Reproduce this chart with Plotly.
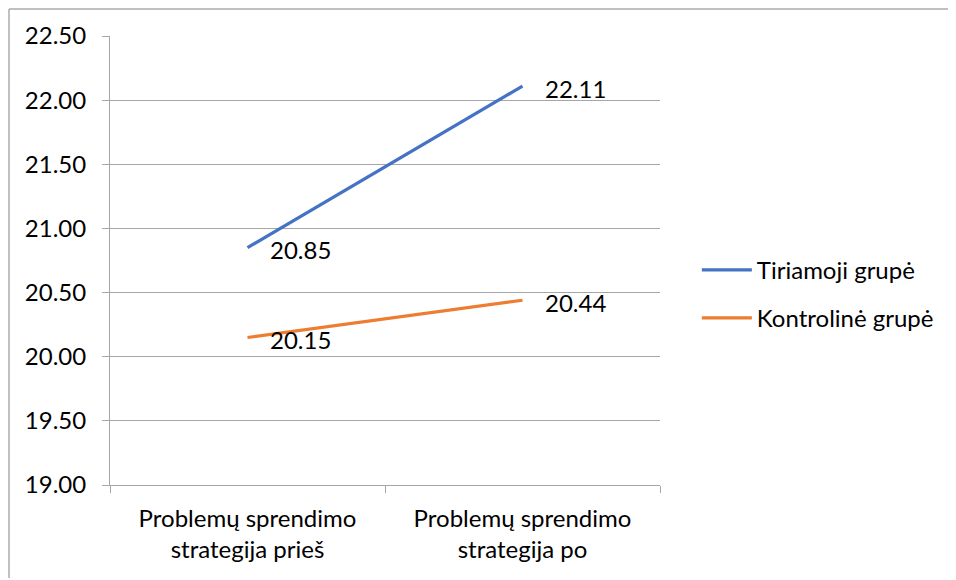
import plotly.graph_objects as go

categories = ["Problemų sprendimo<br>strategija prieš", "Problemų sprendimo<br>strategija po"]
tiriamoji = [20.85, 22.11]
kontroline = [20.15, 20.44]
series_names = ["Tiriamoji grupė", "Kontrolinė grupė"]
y_ticks = [19.0, 19.5, 20.0, 20.5, 21.0, 21.5, 22.0, 22.5]

colors = ["#4472C4", "#ED7D31"]
font_family = "Lato, 'Open Sans', sans-serif"
fs = 24

fig = go.Figure()
for i, (name, vals) in enumerate(zip(series_names, [tiriamoji, kontroline])):
    fig.add_trace(go.Scatter(
        x=categories,
        y=vals,
        mode="lines",
        name=name,
        legendgroup=name,
        line=dict(color=colors[i], width=3.2),
        hoverinfo="skip",
    ))
    # data labels to the right of each point
    for x, v in zip(categories, vals):
        fig.add_annotation(
            x=x, y=v, text=f"{v:.2f}",
            showarrow=False, xanchor="left", yanchor="middle",
            xshift=20, yshift=-2,
            font=dict(size=fs, color="black", family=font_family),
        )

# outer chart border: only top and left edges are inside the picture
bx0 = (1 - 102) / 550
by1 = (477 - 1) / 449
border = dict(color="#ababab", width=1.5)
fig.add_shape(type="line", xref="paper", yref="paper",
              x0=bx0, x1=1.8, y0=by1, y1=by1, line=border)
fig.add_shape(type="line", xref="paper", yref="paper",
              x0=bx0, x1=bx0, y0=-0.5, y1=by1, line=border)

fig.update_layout(
    width=946,
    height=570,
    paper_bgcolor="white",
    plot_bgcolor="white",
    font=dict(family=font_family, size=fs, color="black"),
    margin=dict(l=102, r=294, t=28, b=93),
    showlegend=True,
    legend=dict(
        x=1.067, y=0.425, xanchor="left", yanchor="middle",
        traceorder="grouped", tracegroupgap=14,
        font=dict(size=fs), itemwidth=50,
        bgcolor="rgba(0,0,0,0)",
    ),
    xaxis=dict(
        type="category",
        range=[-0.5, 1.5],
        showgrid=False,
        showline=True, linecolor="#a6a6a6", linewidth=1,
        ticks="outside", tickson="boundaries", ticklen=7,
        tickcolor="#a6a6a6",
        ticklabelstandoff=12,
        tickfont=dict(size=fs),
    ),
    yaxis=dict(
        range=[19.0, 22.5],
        tickvals=y_ticks,
        tickformat=".2f",
        showgrid=True, gridcolor="#a6a6a6", gridwidth=1,
        showline=True, linecolor="#a6a6a6", linewidth=1,
        ticks="outside", ticklen=7, tickcolor="#a6a6a6",
        ticklabelstandoff=11,
        zeroline=False,
        tickfont=dict(size=fs),
    ),
)

fig.write_html("out.html")
